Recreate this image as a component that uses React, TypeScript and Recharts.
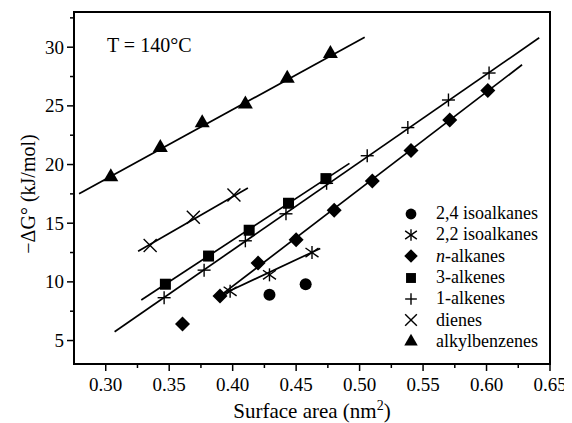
import React from 'react';
import {
  ComposedChart,
  Line,
  Scatter,
  XAxis,
  YAxis,
  Legend,
  ReferenceArea,
  Customized,
} from 'recharts';

// tick positions (majors get labels, the rest are minor ticks)
const xTicks = [0.3, 0.325, 0.35, 0.375, 0.4, 0.425, 0.45, 0.475, 0.5, 0.525, 0.55, 0.575, 0.6, 0.625, 0.65];
const yTicks = [5, 7.5, 10, 12.5, 15, 17.5, 20, 22.5, 25, 27.5, 30, 32.5];

// measured points
const iso24X = [0.429, 0.4575];
const iso24Y = [8.9, 9.8];

const iso22X = [0.398, 0.429, 0.4625];
const iso22Y = [9.2, 10.6, 12.5];
const iso22FitX = [0.392, 0.469];
const iso22FitY = [8.95, 12.85];

const nAlkX = [0.3605, 0.39, 0.42, 0.45, 0.48, 0.51, 0.5405, 0.571, 0.601];
const nAlkY = [6.4, 8.8, 11.6, 13.6, 16.1, 18.6, 21.2, 23.8, 26.3];
const nAlkFitX = [0.39, 0.628];
const nAlkFitY = [8.8, 28.5];

const alk3X = [0.347, 0.381, 0.413, 0.444, 0.4735];
const alk3Y = [9.8, 12.2, 14.4, 16.7, 18.8];
const alk3FitX = [0.328, 0.492];
const alk3FitY = [8.45, 20.1];

const alk1X = [0.346, 0.3775, 0.41, 0.442, 0.474, 0.506, 0.538, 0.57, 0.602];
const alk1Y = [8.65, 11.0, 13.5, 15.8, 18.4, 20.75, 23.15, 25.5, 27.8];
const alk1FitX = [0.307, 0.6415];
const alk1FitY = [5.75, 30.8];

const dieneX = [0.335, 0.369, 0.401];
const dieneY = [13.1, 15.5, 17.4];
const dieneFitX = [0.3255, 0.412];
const dieneFitY = [12.6, 18.0];

const benzX = [0.304, 0.343, 0.376, 0.41, 0.443, 0.477];
const benzY = [19.0, 21.5, 23.6, 25.2, 27.4, 29.5];
const benzFitX = [0.279, 0.504];
const benzFitY = [17.5, 30.85];

type Kind = 'circle' | 'star' | 'diamond' | 'square' | 'plus' | 'cross' | 'triangle';

const legendItems: { kind: Kind; label: React.ReactNode }[] = [
  { kind: 'circle', label: '2,4 isoalkanes' },
  { kind: 'star', label: '2,2 isoalkanes' },
  { kind: 'diamond', label: <><i>n</i>-alkanes</> },
  { kind: 'square', label: '3-alkenes' },
  { kind: 'plus', label: '1-alkenes' },
  { kind: 'cross', label: 'dienes' },
  { kind: 'triangle', label: 'alkylbenzenes' },
];

const zip = (xs: number[], ys: number[]) => xs.map((x, i) => ({ x, y: ys[i] }));

const FONT = '"Liberation Serif", "DejaVu Serif", serif';

function Marker({ kind, cx, cy, s = 1 }: { kind: Kind; cx: number; cy: number; s?: number }) {
  const sw = 1.4;
  switch (kind) {
    case 'circle':
      return <circle cx={cx} cy={cy} r={6 * s} fill="#000" />;
    case 'square':
      return <rect x={cx - 5.5 * s} y={cy - 5.5 * s} width={11 * s} height={11 * s} fill="#000" />;
    case 'diamond': {
      const d = 7.5 * s;
      return <polygon points={`${cx},${cy - d} ${cx + d},${cy} ${cx},${cy + d} ${cx - d},${cy}`} fill="#000" />;
    }
    case 'triangle': {
      const w = 7.5 * s;
      return (
        <polygon
          points={`${cx},${cy - 8 * s} ${cx + w},${cy + 5 * s} ${cx - w},${cy + 5 * s}`}
          fill="#000"
        />
      );
    }
    case 'plus': {
      const h = 6.5 * s;
      return (
        <g stroke="#000" strokeWidth={sw}>
          <line x1={cx - h} y1={cy} x2={cx + h} y2={cy} />
          <line x1={cx} y1={cy - h} x2={cx} y2={cy + h} />
        </g>
      );
    }
    case 'cross': {
      const h = 6.5 * s;
      return (
        <g stroke="#000" strokeWidth={sw}>
          <line x1={cx - h} y1={cy - h} x2={cx + h} y2={cy + h} />
          <line x1={cx - h} y1={cy + h} x2={cx + h} y2={cy - h} />
        </g>
      );
    }
    case 'star': {
      const h = 6.5 * s;
      return (
        <g stroke="#000" strokeWidth={sw}>
          <line x1={cx - h} y1={cy - h * 0.7} x2={cx + h} y2={cy + h * 0.7} />
          <line x1={cx - h} y1={cy + h * 0.7} x2={cx + h} y2={cy - h * 0.7} />
          <line x1={cx} y1={cy - h} x2={cx} y2={cy + h} />
        </g>
      );
    }
  }
  return null;
}

const isMajor = (v: number, step: number) => Math.abs(v / step - Math.round(v / step)) < 1e-6;

function XTick({ x, y, payload }: any) {
  const major = isMajor(payload.value, 0.05);
  return (
    <g>
      <line x1={x} y1={y} x2={x} y2={y + (major ? 7 : 4)} stroke="#000" strokeWidth={1.5} />
      {major && (
        <text x={x} y={y + 27} textAnchor="middle" fontFamily={FONT} fontSize={19} fill="#000">
          {payload.value.toFixed(2)}
        </text>
      )}
    </g>
  );
}

function YTick({ x, y, payload }: any) {
  const major = isMajor(payload.value, 5);
  return (
    <g>
      <line x1={x} y1={y} x2={x - (major ? 7 : 4)} y2={y} stroke="#000" strokeWidth={1.5} />
      {major && (
        <text x={x - 10} y={y + 6.5} textAnchor="end" fontFamily={FONT} fontSize={19} fill="#000">
          {payload.value}
        </text>
      )}
    </g>
  );
}

function LegendBox() {
  return (
    <div style={{ fontFamily: FONT, fontSize: 18, color: '#000' }}>
      {legendItems.map((it) => (
        <div key={it.kind} style={{ display: 'flex', alignItems: 'center', height: 21.3 }}>
          <svg width={24} height={20}>
            <Marker kind={it.kind} cx={12} cy={10} s={0.9} />
          </svg>
          <span style={{ marginLeft: 13, lineHeight: '21px' }}>{it.label}</span>
        </div>
      ))}
    </div>
  );
}

function Annotations() {
  return (
    <g fontFamily={FONT} fill="#000">
      <text x={99} y={44} fontSize={20}>T = 140°C</text>
      <text x={304} y={410} fontSize={21} textAnchor="middle">
        Surface area (nm<tspan dy={-8} fontSize={14}>2</tspan><tspan dy={8}>)</tspan>
      </text>
      <text x={27} y={186} fontSize={20} textAnchor="middle" transform="rotate(-90 27 186)">
        −ΔG° (kJ/mol)
      </text>
    </g>
  );
}

const fits = [
  zip(iso22FitX, iso22FitY),
  zip(nAlkFitX, nAlkFitY),
  zip(alk3FitX, alk3FitY),
  zip(alk1FitX, alk1FitY),
  zip(dieneFitX, dieneFitY),
  zip(benzFitX, benzFitY),
];

const points: { kind: Kind; data: { x: number; y: number }[] }[] = [
  { kind: 'circle', data: zip(iso24X, iso24Y) },
  { kind: 'star', data: zip(iso22X, iso22Y) },
  { kind: 'diamond', data: zip(nAlkX, nAlkY) },
  { kind: 'square', data: zip(alk3X, alk3Y) },
  { kind: 'plus', data: zip(alk1X, alk1Y) },
  { kind: 'cross', data: zip(dieneX, dieneY) },
  { kind: 'triangle', data: zip(benzX, benzY) },
];

export default function App() {
  return (
    <div style={{ width: 564, height: 415 }}>
      <ComposedChart width={564} height={415} margin={{ top: 4, right: 22, left: 0, bottom: 0 }}>
        <XAxis
          type="number"
          dataKey="x"
          domain={[0.275, 0.65]}
          ticks={xTicks}
          allowDataOverflow
          height={59}
          tickSize={0}
          tickMargin={0}
          tickLine={false}
          axisLine={{ stroke: '#000', strokeWidth: 2 }}
          tick={<XTick />}
          interval={0}
        />
        <YAxis
          type="number"
          dataKey="y"
          domain={[3, 33]}
          ticks={yTicks}
          allowDataOverflow
          width={66}
          tickSize={0}
          tickMargin={0}
          tickLine={false}
          axisLine={{ stroke: '#000', strokeWidth: 2 }}
          tick={<YTick />}
          interval={0}
        />
        <ReferenceArea x1={0.275} x2={0.65} y1={3} y2={33} fill="none" stroke="#000" strokeWidth={2} />
        {fits.map((d, i) => (
          <Line
            key={'fit' + i}
            data={d}
            dataKey="y"
            type="linear"
            stroke="#000"
            strokeWidth={1.7}
            dot={false}
            activeDot={false}
            isAnimationActive={false}
            legendType="none"
          />
        ))}
        {points.map((p) => (
          <Scatter
            key={p.kind}
            data={p.data}
            dataKey="y"
            isAnimationActive={false}
            shape={(sp: any) => <Marker kind={p.kind} cx={sp.cx} cy={sp.cy} />}
          />
        ))}
        <Legend
          layout="vertical"
          align="center"
          verticalAlign="middle"
          wrapperStyle={{ left: 391, top: 195, width: 165 }}
          content={() => <LegendBox />}
        />
        <Customized component={Annotations} />
      </ComposedChart>
    </div>
  );
}
